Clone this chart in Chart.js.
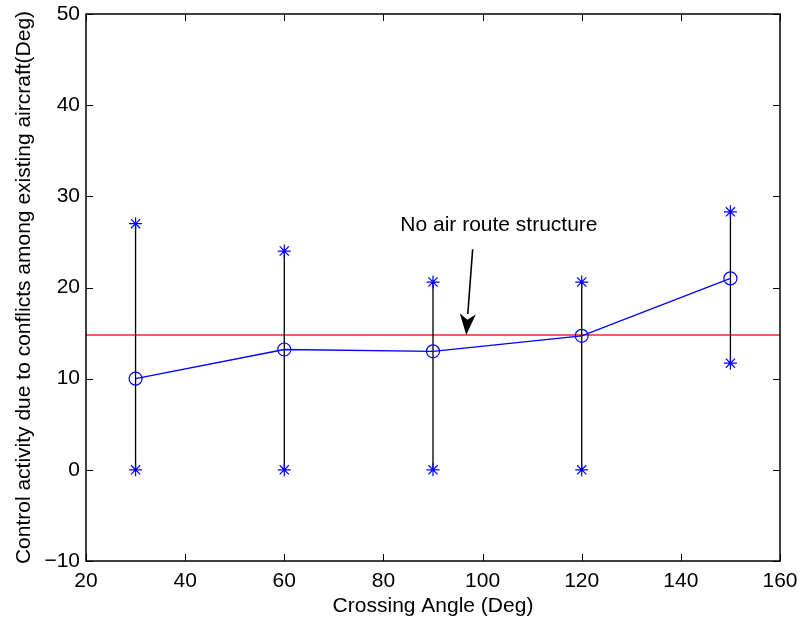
<!DOCTYPE html>
<html>
<head>
<meta charset="utf-8">
<script src="https://cdn.jsdelivr.net/npm/chart.js@4/dist/chart.umd.min.js"></script>
<style>
    html, body { margin: 0; padding: 0; background: #fff; }
    #wrap { width: 801px; height: 623px; position: relative; }
</style>
</head>
<body>
<div id="wrap"><canvas id="activityChart"></canvas></div>
<script>
// crossing angle vs. control activity (mean with min/max range)
const angles = [30, 60, 90, 120, 150];
const meanActivity = [10.0, 13.2, 13.0, 14.7, 21.0];
const upperActivity = [27.0, 24.0, 20.6, 20.6, 28.3];
const lowerActivity = [0, 0, 0, 0, 11.7];

// reference level without air route structure
const noRouteLevel = 14.8;
const noRouteLabel = "No air route structure";

const xRange = [20, 160];
const yRange = [-10, 50];
const xTicks = [20, 40, 60, 80, 100, 120, 140, 160];
const yTicks = [-10, 0, 10, 20, 30, 40, 50];

const FONT = "'Liberation Sans', Arial, Helvetica, sans-serif";

document.addEventListener("DOMContentLoaded", function () {
    const ctx = document.getElementById("activityChart");

    // vertical range bars, broken up with null points
    const rangeSegments = [];
    angles.forEach((a, i) => {
        rangeSegments.push({ x: a, y: lowerActivity[i] });
        rangeSegments.push({ x: a, y: upperActivity[i] });
        rangeSegments.push({ x: a, y: null });
    });

    // box around the axes with inward tick marks on all four sides
    const boxPlugin = {
        id: "boxAxes",
        afterDraw(chart) {
            const { ctx, chartArea: a, scales } = chart;
            const len = 7;
            ctx.save();
            ctx.strokeStyle = "#000";
            ctx.lineWidth = 1;
            ctx.beginPath();
            xTicks.forEach(v => {
                const px = Math.round(scales.x.getPixelForValue(v)) + 0.5;
                ctx.moveTo(px, a.bottom); ctx.lineTo(px, a.bottom - len);
                ctx.moveTo(px, a.top); ctx.lineTo(px, a.top + len);
            });
            yTicks.forEach(v => {
                const py = Math.round(scales.y.getPixelForValue(v)) + 0.5;
                ctx.moveTo(a.left, py); ctx.lineTo(a.left + len, py);
                ctx.moveTo(a.right, py); ctx.lineTo(a.right - len, py);
            });
            ctx.stroke();
            ctx.lineWidth = 1.5;
            ctx.strokeRect(a.left, a.top, a.right - a.left, a.bottom - a.top);
            ctx.restore();
        }
    };

    // text label and arrow pointing at the reference line
    const notePlugin = {
        id: "routeNote",
        afterDatasetsDraw(chart) {
            const { ctx, scales } = chart;
            const x = scales.x, y = scales.y;
            const tx = x.getPixelForValue(83.4), ty = y.getPixelForValue(26.2);
            const x0 = x.getPixelForValue(98.0), y0 = y.getPixelForValue(24.2);
            const x1 = x.getPixelForValue(96.7), y1 = y.getPixelForValue(noRouteLevel);

            ctx.save();
            ctx.fillStyle = "#000";
            ctx.font = "21px " + FONT;
            ctx.textAlign = "left";
            ctx.textBaseline = "alphabetic";
            ctx.fillText(noRouteLabel, tx, ty);

            const ang = Math.atan2(y1 - y0, x1 - x0);
            const headLen = 21, headW = 8;
            const bx = x1 - headLen * Math.cos(ang), by = y1 - headLen * Math.sin(ang);
            ctx.strokeStyle = "#000";
            ctx.lineWidth = 1.6;
            ctx.beginPath();
            ctx.moveTo(x0, y0);
            ctx.lineTo(bx, by);
            ctx.stroke();

            const nx = -Math.sin(ang), ny = Math.cos(ang);
            const notchX = x1 - headLen * 0.72 * Math.cos(ang);
            const notchY = y1 - headLen * 0.72 * Math.sin(ang);
            ctx.beginPath();
            ctx.moveTo(x1, y1);
            ctx.lineTo(bx + nx * headW, by + ny * headW);
            ctx.lineTo(notchX, notchY);
            ctx.lineTo(bx - nx * headW, by - ny * headW);
            ctx.closePath();
            ctx.fill();
            ctx.restore();
        }
    };

    new Chart(ctx, {
        type: "scatter",
        data: {
            datasets: [
                {
                    label: "No air route structure",
                    data: xRange.map(v => ({ x: v, y: noRouteLevel })),
                    showLine: true,
                    borderColor: "rgb(245, 95, 95)",
                    borderWidth: 2,
                    pointRadius: 0,
                    order: 5
                },
                {
                    label: "Range",
                    data: rangeSegments,
                    showLine: true,
                    spanGaps: false,
                    borderColor: "#000",
                    borderWidth: 1.3,
                    pointRadius: 0,
                    order: 4
                },
                {
                    label: "Upper",
                    data: angles.map((a, i) => ({ x: a, y: upperActivity[i] })),
                    pointStyle: "star",
                    pointRadius: 6.5,
                    borderColor: "#0000ff",
                    backgroundColor: "#0000ff",
                    pointBorderWidth: 1.2,
                    order: 2
                },
                {
                    label: "Lower",
                    data: angles.map((a, i) => ({ x: a, y: lowerActivity[i] })),
                    pointStyle: "star",
                    pointRadius: 6.5,
                    borderColor: "#0000ff",
                    backgroundColor: "#0000ff",
                    pointBorderWidth: 1.2,
                    order: 2
                },
                {
                    label: "Mean",
                    data: angles.map((a, i) => ({ x: a, y: meanActivity[i] })),
                    showLine: true,
                    borderColor: "#0000ff",
                    borderWidth: 1.3,
                    pointStyle: "circle",
                    pointRadius: 6.5,
                    pointBorderWidth: 1.2,
                    pointBorderColor: "#0000ff",
                    pointBackgroundColor: "rgba(0,0,0,0)",
                    order: 3
                }
            ]
        },
        options: {
            responsive: true,
            maintainAspectRatio: false,
            animation: false,
            layout: {
                padding: { top: 14, right: 21, bottom: 0, left: 0 }
            },
            plugins: {
                legend: { display: false },
                tooltip: { enabled: false }
            },
            scales: {
                x: {
                    type: "linear",
                    min: xRange[0],
                    max: xRange[1],
                    afterBuildTicks: s => { s.ticks = xTicks.map(v => ({ value: v })); },
                    afterFit: s => {
                        s.height = 62;
                        s.paddingLeft = 0;
                        s.paddingRight = 0;
                    },
                    grid: { display: false, drawTicks: false },
                    border: { display: false },
                    ticks: {
                        color: "#000",
                        padding: 8,
                        maxRotation: 0,
                        font: { family: FONT, size: 21 }
                    },
                    title: {
                        display: true,
                        text: "Crossing Angle (Deg)",
                        color: "#000",
                        font: { family: FONT, size: 21 },
                        padding: { top: 0, bottom: 4 }
                    }
                },
                y: {
                    type: "linear",
                    min: yRange[0],
                    max: yRange[1],
                    afterBuildTicks: s => { s.ticks = yTicks.map(v => ({ value: v })); },
                    afterFit: s => {
                        s.width = 86;
                        s.paddingTop = 0;
                        s.paddingBottom = 0;
                    },
                    grid: { display: false, drawTicks: false },
                    border: { display: false },
                    ticks: {
                        color: "#000",
                        padding: 6,
                        font: { family: FONT, size: 21 },
                        callback: v => (v < 0 ? "\u2212" + Math.abs(v) : String(v))
                    },
                    title: {
                        display: true,
                        text: "Control activity due to conflicts among existing aircraft(Deg)",
                        color: "#000",
                        font: { family: FONT, size: 21 },
                        padding: { top: 12, bottom: 0 }
                    }
                }
            }
        },
        plugins: [boxPlugin, notePlugin]
    });
});
</script>
</body>
</html>
